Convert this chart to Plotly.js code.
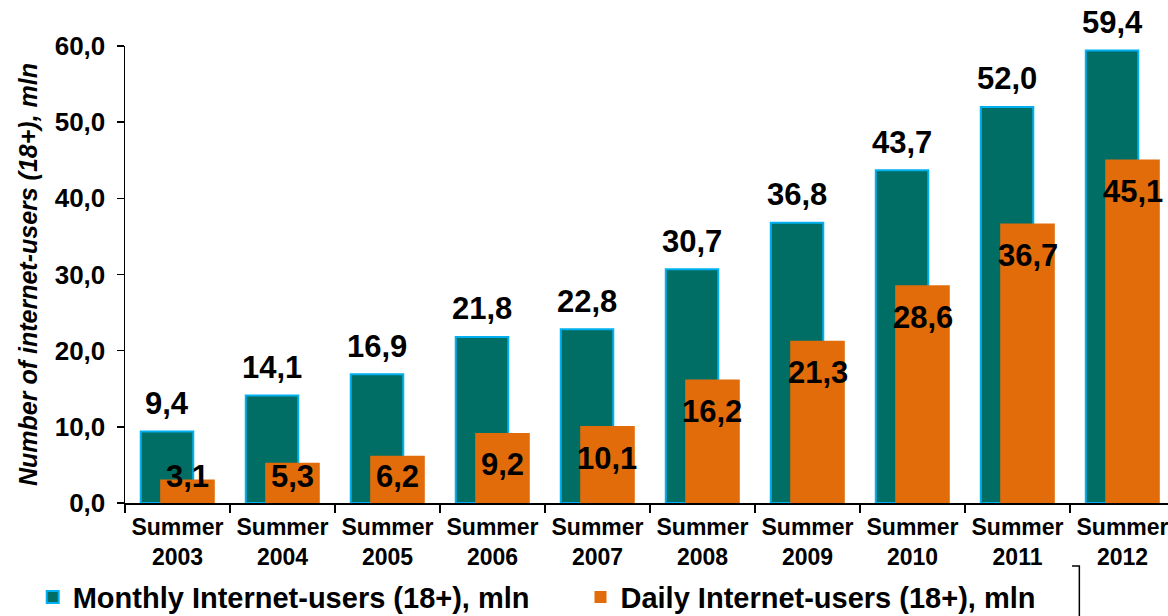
<!DOCTYPE html>
<html><head><meta charset="utf-8">
<script src="https://cdn.plot.ly/plotly-3.0.1.min.js"></script>
<style>html,body{margin:0;padding:0;background:#fff;}#chart{width:1168px;height:616px;}</style>
</head><body><div id="chart"></div>
<script>
const categories = ['Summer<br>2003','Summer<br>2004','Summer<br>2005','Summer<br>2006','Summer<br>2007','Summer<br>2008','Summer<br>2009','Summer<br>2010','Summer<br>2011','Summer<br>2012'];
const monthlyUsers = [9.4, 14.1, 16.9, 21.8, 22.8, 30.7, 36.8, 43.7, 52.0, 59.4];
const dailyUsers = [3.1, 5.3, 6.2, 9.2, 10.1, 16.2, 21.3, 28.6, 36.7, 45.1];
const yTickValues = [0, 10, 20, 30, 40, 50, 60];
const monthlyName = 'Monthly Internet-users (18+), mln';
const dailyName = 'Daily Internet-users (18+), mln';
const yTitle = 'Number of internet-users (18+), mln';

const FONT = 'Liberation Sans, Arial, Helvetica, sans-serif';
const fmt = v => v.toFixed(1).replace('.', ',');

const mOff = -0.35, mW = 0.5, dOff = -0.165, dW = 0.52;

const traces = [
  {type:'bar', name: monthlyName, x: categories, y: monthlyUsers, width: mW, offset: mOff, legend:'legend',
   marker:{color:'#006E64', line:{color:'#00B0F0', width:2}}, hoverinfo:'skip'},
  {type:'bar', name: dailyName, x: categories, y: dailyUsers, width: dW, offset: dOff, legend:'legend2',
   marker:{color:'#E36C0A', line:{width:0}}, hoverinfo:'skip'}
];

const annotations = [];
monthlyUsers.forEach((v,i)=>{
  annotations.push({x: i + mOff + mW/2, y: v, xref:'x', yref:'y', text: fmt(v), showarrow:false,
    yanchor:'middle', yshift: 28, font:{family:FONT, size:31, weight:'bold', color:'#000'}});
});
dailyUsers.forEach((v,i)=>{
  annotations.push({x: i + dOff + dW/2, y: Math.max(v, 7.7), xref:'x', yref:'y', text: fmt(v), showarrow:false,
    yanchor:'middle', yshift: -32, font:{family:FONT, size:31, weight:'bold', color:'#000'}});
});

const legendBase = {orientation:'h', xref:'container', yref:'container', xanchor:'left', y:0.072, yanchor:'top',
  font:{family:FONT, size:29, weight:'bold', color:'#000'}, itemwidth:30, bgcolor:'rgba(0,0,0,0)'};

const layout = {
  width:1168, height:616,
  margin:{l:125, r:0, t:46, b:113, pad:0, autoexpand:false},
  paper_bgcolor:'#fff', plot_bgcolor:'#fff',
  barmode:'overlay',
  separators:', ',
  font:{family:FONT, color:'#000'},
  showlegend:true,
  legend: Object.assign({}, legendBase, {x:0.028}),
  legend2: Object.assign({}, legendBase, {x:0.497}),
  xaxis:{type:'category', range:[-0.5, 9.433], showline:true, linecolor:'#000', linewidth:1.5, automargin:false,
    ticks:'outside', tickson:'boundaries', ticklen:8, tickwidth:1.5, tickcolor:'#000', ticklabelstandoff:3,
    tickfont:{family:FONT, size:23, weight:'bold', color:'#000'}, showgrid:false, zeroline:false, fixedrange:true},
  yaxis:{range:[0,60], tickvals:yTickValues, tickformat:'.1f', showline:true, linecolor:'#000', linewidth:1.5, automargin:false,
    ticks:'outside', ticklen:7, tickwidth:1.5, tickcolor:'#000', ticklabelstandoff:6,
    tickfont:{family:FONT, size:26, weight:'bold', color:'#000'}, showgrid:false, zeroline:false,
    title:{text:yTitle, standoff:10, font:{family:FONT, size:25, weight:'bold', style:'italic', color:'#000'}}},
  annotations: annotations,
  shapes:[{type:'path', xref:'paper', yref:'paper', path:'M 0.908 -0.138 L 0.915 -0.138 L 0.915 -0.26',
    line:{color:'#000', width:1.5}}]
};

Plotly.newPlot('chart', traces, layout, {displayModeBar:false, staticPlot:true});
</script></body></html>
